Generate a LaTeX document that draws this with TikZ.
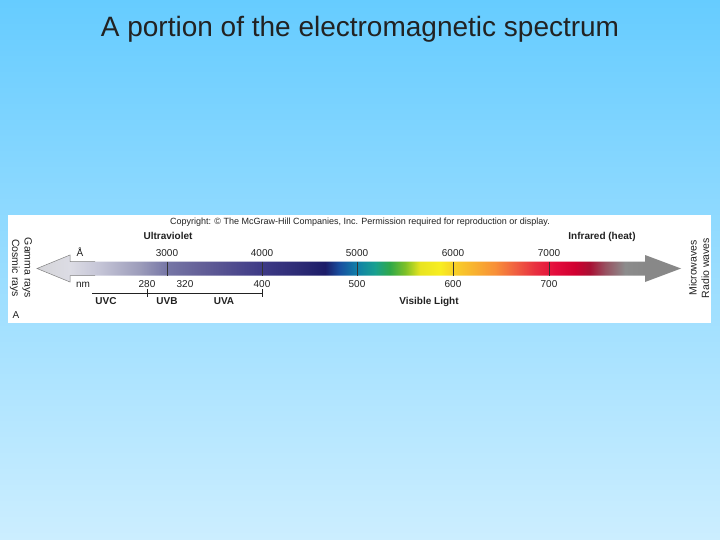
\documentclass[tikz,border=0pt]{standalone}
\usepackage{fontspec}
\setmainfont{Liberation Sans}
\definecolor{bgtop}{HTML}{66CCFF}
\definecolor{bgbot}{HTML}{CCEEFF}
\definecolor{c0}{HTML}{D4D4D8}
\definecolor{c1}{HTML}{DCDCE4}
\definecolor{c2}{HTML}{C4C4D6}
\definecolor{c3}{HTML}{9C9CBA}
\definecolor{c4}{HTML}{7676A6}
\definecolor{c5}{HTML}{646098}
\definecolor{c6}{HTML}{3E3A86}
\definecolor{c7}{HTML}{2C2A74}
\definecolor{c8}{HTML}{1C1C68}
\definecolor{c9}{HTML}{1850A0}
\definecolor{c10}{HTML}{1080A8}
\definecolor{c11}{HTML}{18A090}
\definecolor{c12}{HTML}{30A848}
\definecolor{c13}{HTML}{7CC028}
\definecolor{c14}{HTML}{E8E420}
\definecolor{c15}{HTML}{F8EE20}
\definecolor{c16}{HTML}{F8D028}
\definecolor{c17}{HTML}{F8B030}
\definecolor{c18}{HTML}{F89038}
\definecolor{c19}{HTML}{F06040}
\definecolor{c20}{HTML}{E83040}
\definecolor{c21}{HTML}{E40C3C}
\definecolor{c22}{HTML}{D00030}
\definecolor{c23}{HTML}{A81034}
\definecolor{c24}{HTML}{985060}
\definecolor{c25}{HTML}{8C8C8C}
\definecolor{c26}{HTML}{888888}
\definecolor{txt}{HTML}{222222}
\pgfdeclarehorizontalshading{spectrum}{100bp}{color(0bp)=(c0); color(25bp)=(c0); color(27.56bp)=(c1); color(29.89bp)=(c2); color(33.00bp)=(c3); color(35.09bp)=(c4); color(37.66bp)=(c5); color(42.47bp)=(c6); color(45.42bp)=(c7); color(47.36bp)=(c8); color(48.52bp)=(c9); color(49.84bp)=(c10); color(51.24bp)=(c11); color(52.41bp)=(c12); color(53.57bp)=(c13); color(54.74bp)=(c14); color(56.29bp)=(c15); color(57.38bp)=(c16); color(59.01bp)=(c17); color(60.56bp)=(c18); color(62.11bp)=(c19); color(63.66bp)=(c20); color(65.22bp)=(c21); color(66.77bp)=(c22); color(67.94bp)=(c23); color(69.10bp)=(c24); color(70.65bp)=(c25); color(72.20bp)=(c26); color(75bp)=(c26); color(100bp)=(c26)}
\begin{document}
\begin{tikzpicture}[x=1pt,y=-1pt,
  lbl/.style={font=\fontsize{10}{12}\selectfont, anchor=base, inner sep=0pt, text=txt},
  blbl/.style={font=\fontsize{10}{12}\selectfont\bfseries, anchor=base, inner sep=0pt, text=txt},
  side/.style={font=\fontsize{10.5}{12.5}\selectfont, align=center, inner sep=0pt, text=txt},
  tickln/.style={line width=0.8pt, draw=black!80},
  bracket/.style={line width=0.6pt, draw=txt}]
\useasboundingbox (0,0) rectangle (720,540);
\fill[top color=bgtop, bottom color=bgbot] (0,0) rectangle (720,540);
\node[anchor=base, inner sep=0pt, font=\fontsize{28}{32}\selectfont, text=txt] (title) at (360,37) {A portion of the electromagnetic spectrum};
\fill[white] (8,215) rectangle (711,323);
\node[lbl, font=\fontsize{9}{10}\selectfont] (copy) at (360,225) {Copyright: © The McGraw-Hill Companies, Inc. Permission required for reproduction or display.};
% spectrum arrow
\shade[shading=spectrum] (37,268.5) -- (70,255) -- (70,261.5) -- (645,261.5) -- (645,255) -- (681,268.5) -- (645,282) -- (645,275.5) -- (70,275.5) -- (70,282) -- cycle;
\draw[draw=black!50, line width=0.5pt] (95,261.5) -- (70,261.5) -- (70,255) -- (37,268.5) -- (70,282) -- (70,275.5) -- (95,275.5);
\foreach \x in {167,262,357,453,549} \draw[tickln] (\x,261.5) -- (\x,275.5);
% labels above
\node[blbl] (uv) at (168,240) {Ultraviolet};
\node[blbl] (ir) at (602,240) {Infrared (heat)};
\node[lbl] (ang) at (80,256) {Å};
\node[lbl] (a3) at (167,256) {3000};
\node[lbl] (a4) at (262,256) {4000};
\node[lbl] (a5) at (357,256) {5000};
\node[lbl] (a6) at (453,256) {6000};
\node[lbl] (a7) at (549,256) {7000};
% labels below
\node[lbl] (nm) at (83,287) {nm};
\node[lbl] (n280) at (147,287) {280};
\node[lbl] (n320) at (185,287) {320};
\node[lbl] (n400) at (262,287) {400};
\node[lbl] (n500) at (357,287) {500};
\node[lbl] (n600) at (453,287) {600};
\node[lbl] (n700) at (549,287) {700};
\draw[bracket] (92,293) -- (262,293);
\draw[bracket] (147,289) -- (147,297);
\draw[bracket] (262,289) -- (262,297);
\node[blbl] (uvc) at (106,304) {UVC};
\node[blbl] (uvb) at (167,304) {UVB};
\node[blbl] (uva) at (224,304) {UVA};
\node[blbl] (vis) at (429,304) {Visible Light};
\node[side, rotate=-90] (gam) at (21,268) {Gamma rays\\Cosmic rays};
\node[side, rotate=90] (mic) at (699,268) {Microwaves\\Radio waves};
\node[lbl] (pa) at (16,318) {A};
\end{tikzpicture}
\end{document}
